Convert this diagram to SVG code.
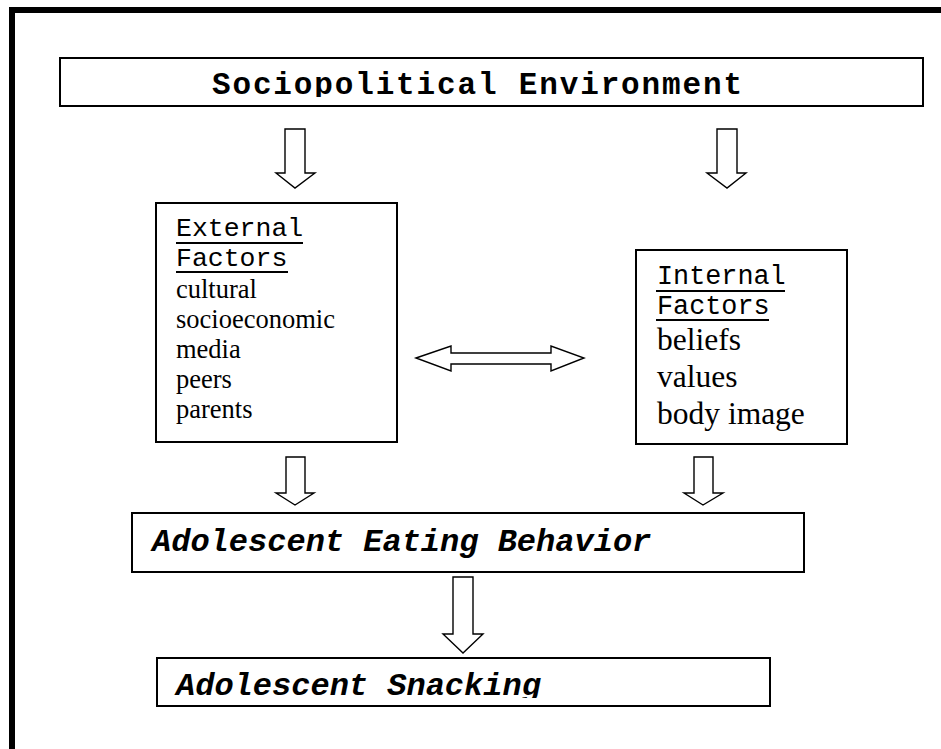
<svg xmlns="http://www.w3.org/2000/svg" width="941" height="749" viewBox="0 0 941 749">
  <style>
    .box { fill: #fff; stroke: #000; stroke-width: 2; }
    .arrow { fill: #fff; stroke: #000; stroke-width: 1.4; stroke-linejoin: miter; }
    .mono { font-family: "Liberation Mono", "Courier New", monospace; fill: #000; }
    .serif { font-family: "Liberation Serif", "Times New Roman", serif; fill: #000; }
    .ul { stroke: #000; stroke-width: 2; }
  </style>
  <defs>
    <clipPath id="clipTop"><rect x="60" y="58" width="863" height="39"/></clipPath>
    <clipPath id="clipSnack"><rect x="157" y="659" width="612" height="39"/></clipPath>
  </defs>
  <rect x="0" y="0" width="941" height="749" fill="#fff"/>
  <g id="frame">
    <rect x="9" y="7" width="932" height="6" fill="#000"/>
    <rect x="9" y="7" width="6" height="742" fill="#000"/>
  </g>
  <g id="sociopolitical">
    <rect class="box" x="60" y="58" width="863" height="48"/>
    <text class="mono" x="212" y="94" font-size="31" font-weight="bold" textLength="530" lengthAdjust="spacing" clip-path="url(#clipTop)">Sociopolitical Environment</text>
  </g>
  <g id="external">
    <rect class="box" x="156" y="203" width="241" height="239"/>
    <text class="mono" x="176" y="236" font-size="26.5">External</text>
    <line class="ul" x1="176" y1="243" x2="303" y2="243"/>
    <text class="mono" x="176" y="266" font-size="26.5">Factors</text>
    <line class="ul" x1="176" y1="272" x2="288" y2="272"/>
    <text class="serif" x="176" y="298" font-size="26.5">cultural</text>
    <text class="serif" x="176" y="328" font-size="26.5">socioeconomic</text>
    <text class="serif" x="176" y="358" font-size="26.5">media</text>
    <text class="serif" x="176" y="388" font-size="26.5">peers</text>
    <text class="serif" x="176" y="418" font-size="26.5">parents</text>
  </g>
  <g id="internal">
    <rect class="box" x="636" y="250" width="211" height="194"/>
    <text class="mono" x="657" y="284" font-size="26.8">Internal</text>
    <line class="ul" x1="656" y1="291" x2="785" y2="291"/>
    <text class="mono" x="657" y="314" font-size="26.8">Factors</text>
    <line class="ul" x1="656" y1="320" x2="769" y2="320"/>
    <text class="serif" x="657" y="350" font-size="31.5">beliefs</text>
    <text class="serif" x="657" y="387" font-size="31.5">values</text>
    <text class="serif" x="657" y="424" font-size="31.5">body image</text>
  </g>
  <g id="eating">
    <rect class="box" x="132" y="513" width="672" height="59"/>
    <text class="mono" x="152" y="551" font-size="32" font-weight="bold" font-style="italic">Adolescent Eating Behavior</text>
  </g>
  <g id="snacking">
    <rect class="box" x="157" y="658" width="613" height="48"/>
    <text class="mono" x="176" y="695" font-size="32" font-weight="bold" font-style="italic" clip-path="url(#clipSnack)">Adolescent Snacking</text>
  </g>
  <g id="connectors">
    <polygon class="arrow" points="285,129 305,129 305,173 315,173 295,188 276,173 285,173"/>
    <polygon class="arrow" points="717,129 737,129 737,173 746,173 727,188 707,173 717,173"/>
    <polygon class="arrow" points="416,358 451,346 451,353 551,353 551,346 584,358 551,371 551,364 451,364 451,371"/>
    <polygon class="arrow" points="286,457 305,457 305,493 314,493 295,505 276,493 286,493"/>
    <polygon class="arrow" points="694,457 713,457 713,493 723,493 703,505 684,493 694,493"/>
    <polygon class="arrow" points="453,577 473,577 473,634 483,634 463,653 443,634 453,634"/>
  </g>
</svg>
